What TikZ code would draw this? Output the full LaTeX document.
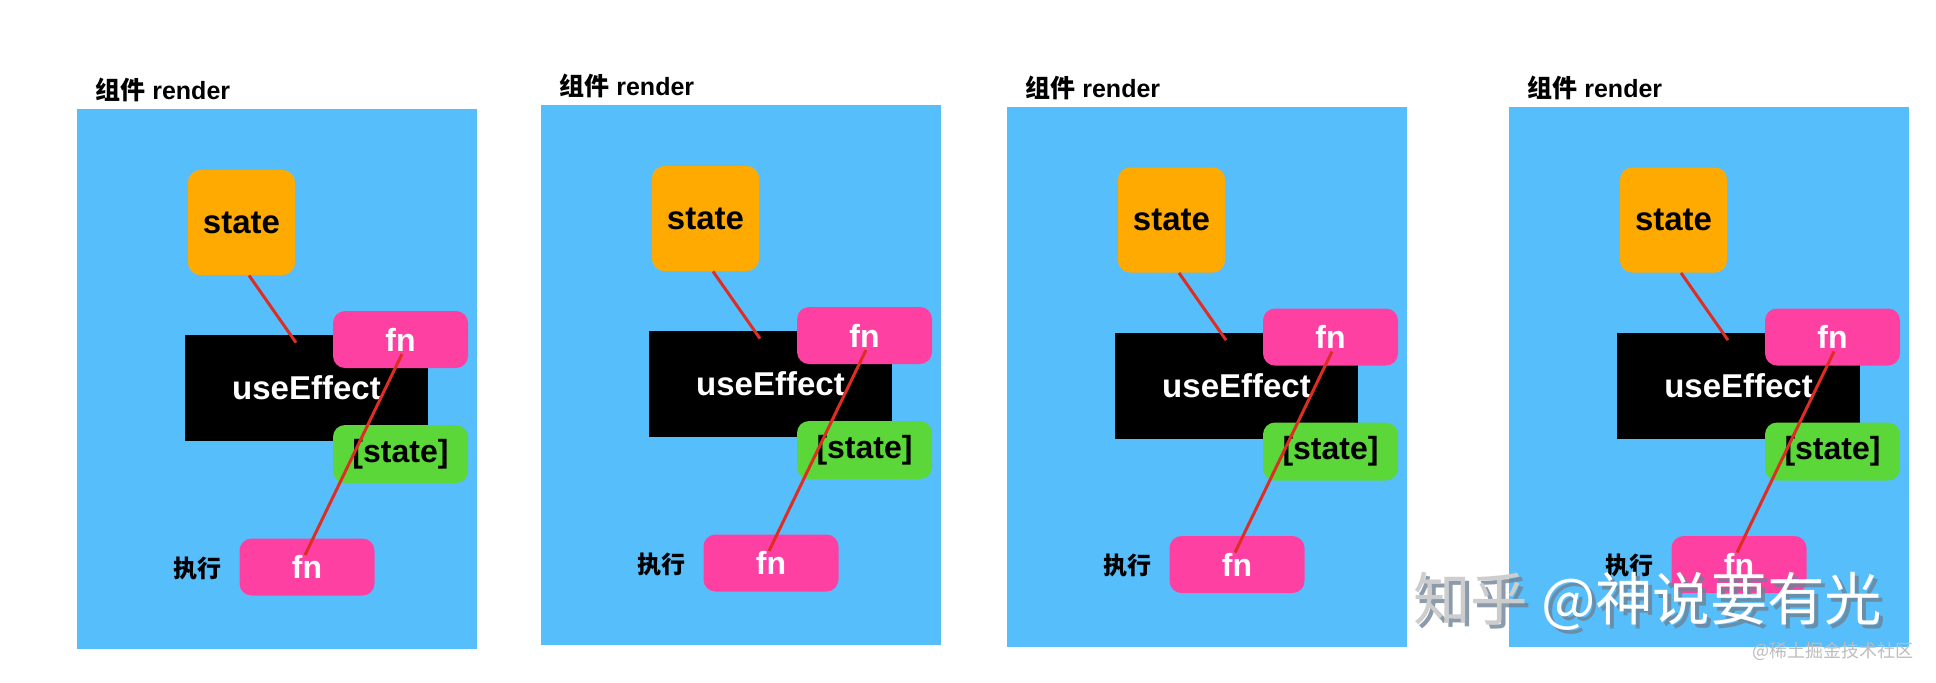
\documentclass[tikz,border=0pt]{standalone}
\usepackage{fontspec}
\setmainfont{Liberation Sans}
\newfontfamily\cjk{Noto Sans CJK SC}
\definecolor{panelblue}{RGB}{87,190,252}
\definecolor{stateorange}{RGB}{254,170,0}
\definecolor{fnpink}{RGB}{255,64,163}
\definecolor{depgreen}{RGB}{91,215,57}
\definecolor{linered}{RGB}{222,45,35}
\definecolor{wmgray}{RGB}{205,205,205}
\definecolor{wmshadow}{RGB}{110,130,150}
\begin{document}
\begin{tikzpicture}[x=0.5pt,y=-0.5pt,
  panelbox/.style={fill=panelblue, inner sep=0, minimum width=200pt, minimum height=270pt},
  statebox/.style={fill=stateorange, rounded corners=6pt, inner sep=0, minimum width=53.5pt, minimum height=52.5pt, font=\bfseries\fontsize{16.5}{18}\selectfont},
  effectbox/.style={fill=black, text=white, inner sep=0, minimum width=121.5pt, minimum height=53pt, font=\bfseries\fontsize{16.5}{18}\selectfont},
  fnbox/.style={fill=fnpink, text=white, rounded corners=6pt, inner sep=0, minimum width=67.5pt, minimum height=28.5pt, font=\bfseries\fontsize{16}{18}\selectfont},
  depbox/.style={fill=depgreen, rounded corners=6pt, inner sep=0, minimum width=67.5pt, minimum height=29pt, font=\bfseries\fontsize{16}{18}\selectfont},
  titletext/.style={anchor=west, inner sep=0, font=\bfseries\fontsize{12.5}{14}\selectfont},
  runtext/.style={inner sep=0, font=\cjk\bfseries\fontsize{12}{14}\selectfont},
  redline/.style={draw=linered, line width=1.5pt}]
\useasboundingbox (0,0) rectangle (1936,682);
\fill[white] (0,0) rectangle (1936,682);
\foreach \i/\dx/\dy in {1/0/0,2/464/-4,3/930/-2.5,4/1432/-2.5}{
  \begin{scope}[shift={(\dx,\dy)}]
    \node[panelbox] (p\i) at (277,379) {};
    \node[titletext] (t\i) at (95,90) {{\cjk 组件} render};
    \node[statebox] (s\i) at (241.5,222.5) {state};
    \node[effectbox] (e\i) at (306.5,388) {useEffect};
    \node[fnbox] (f\i) at (400.5,339.5) {fn};
    \node[depbox] (d\i) at (400.5,454) {[state]};
    \node[fnbox] (g\i) at (307,567) {fn};
    \node[runtext] (r\i) at (197.5,568) {执行};
    \draw[redline] ([xshift=3.75pt]s\i.south) -- ([xshift=-5.25pt,yshift=-4pt]e\i.north);
    \draw[redline] ([xshift=0.75pt,yshift=-7.25pt]f\i.center) -- ([xshift=-1pt,yshift=6pt]g\i.center);
  \end{scope}
}
\node[anchor=west, inner sep=0, text=wmshadow, opacity=0.8, font=\cjk\fontsize{28.7}{30}\selectfont] (wms) at (1417,605) {知乎 @神说要有光};
\node[anchor=west, inner sep=0, font=\cjk\fontsize{28.7}{30}\selectfont] (wm) at (1413,601) {\textcolor{wmgray}{知乎} \textcolor{white}{@神说要有光}};
\node[anchor=east, inner sep=0, text=wmgray!80!gray, font=\cjk\fontsize{9}{10}\selectfont] (wm2) at (1914,651) {@稀土掘金技术社区};
\end{tikzpicture}
\end{document}
